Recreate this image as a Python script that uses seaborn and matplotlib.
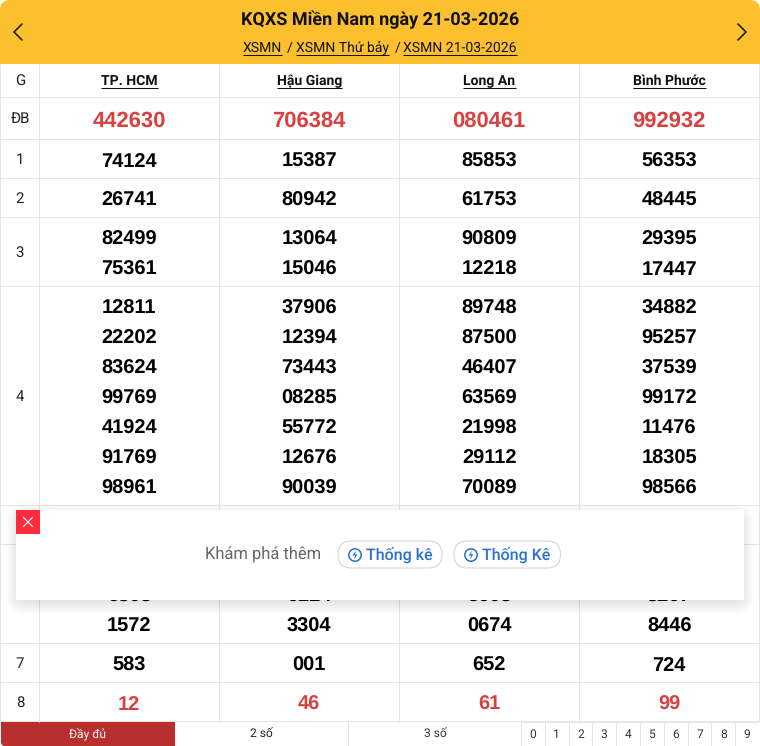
import numpy as np
import matplotlib
matplotlib.use("Agg")
import matplotlib.pyplot as plt
import seaborn as sns
from matplotlib.colors import ListedColormap
from matplotlib.patches import Circle, FancyBboxPatch, Polygon, Rectangle

# table contents, one list per province, one sublist per prize row
provinces = ["TP. HCM", "Hậu Giang", "Long An", "Bình Phước"]
prize_labels = ["ĐB", "1", "2", "3", "4", "5", "6", "7", "8"]
tp_hcm = [["442630"], ["74124"], ["26741"], ["82499", "75361"],
          ["12811", "22202", "83624", "99769", "41924", "91769", "98961"],
          [""], ["", "6303", "1572"], ["583"], ["12"]]
hau_giang = [["706384"], ["15387"], ["80942"], ["13064", "15046"],
             ["37906", "12394", "73443", "08285", "55772", "12676", "90039"],
             [""], ["", "9224", "3304"], ["001"], ["46"]]
long_an = [["080461"], ["85853"], ["61753"], ["90809", "12218"],
           ["89748", "87500", "46407", "63569", "21998", "29112", "70089"],
           [""], ["", "5603", "0674"], ["652"], ["61"]]
binh_phuoc = [["992932"], ["56353"], ["48445"], ["29395", "17447"],
              ["34882", "95257", "37539", "99172", "11476", "18305", "98566"],
              [""], ["", "3267", "8446"], ["724"], ["99"]]
tab_labels = ["Đầy đủ", "2 số", "3 số"]
digit_tabs = ["0", "1", "2", "3", "4", "5", "6", "7", "8", "9"]

GRID = "#e5e5e5"
YELLOW = "#fcc02e"
RED_TEXT = "#d94141"
BLUE = "#2a72cf"
W, H = 760, 746

sns.set_theme(style="white")
plt.rcParams["font.family"] = ["Roboto", "DejaVu Sans"]
plt.rcParams["text.hinting"] = "none"


def px(size):
    return size * 0.72


def inset(fig, x, y, w, h):
    ax = fig.add_axes([x / W, 1 - (y + h) / H, w / W, h / H])
    return ax


def draw_prize_row(fig, top, values, fontsize, color):
    """One heatmap per prize row, each text line is a heatmap row of 30px"""
    labels = np.array(values).T
    ax = inset(fig, 39.2, top, 720, 30 * labels.shape[0] if fontsize == 20 else 42)
    sns.heatmap(np.zeros(labels.shape), annot=labels, fmt="", cbar=False,
                cmap=ListedColormap(["white"]), xticklabels=False, yticklabels=False,
                annot_kws={"fontsize": px(fontsize), "fontweight": "bold", "color": color,
                           "family": "Liberation Sans", "va": "center_baseline"}, ax=ax)
    ax.axis("off")


def underlined(ax, x, y, s, line_y, ha="left", **kw):
    t = ax.text(x, y, s, ha=ha, va="center", **kw)
    bb = t.get_window_extent(ax.figure.canvas.get_renderer())
    ax.plot([bb.x0, bb.x1], [line_y, line_y], color="#111111", lw=0.75, solid_capstyle="butt")


fig = plt.figure(figsize=(W / 100, H / 100), dpi=100, facecolor="white")

# prize rows
all_rows = list(zip(tp_hcm, hau_giang, long_an, binh_phuoc))
y = 98
edges = [97]
centers = [81]
for i, row in enumerate(all_rows):
    n = len(row[0])
    h = 42 if i == 0 else 9 + 30 * n
    color = RED_TEXT if prize_labels[i] in ("ĐB", "8") else "#000000"
    if i == 0:
        draw_prize_row(fig, y - 0.5, row, 22, color)
    else:
        draw_prize_row(fig, y + 4.7, row, 20, color)
    centers.append(y + h / 2)
    y += h
    edges.append(y - 1)

# digit tabs at the bottom
ax_tabs = inset(fig, 521, 721.5, 238, 27)
sns.heatmap(np.zeros((1, 10)), annot=np.array([digit_tabs]), fmt="", cbar=False,
            cmap=ListedColormap(["white"]), xticklabels=False, yticklabels=False,
            linewidths=0.72, linecolor=GRID,
            annot_kws={"fontsize": px(12), "color": "#333333"}, ax=ax_tabs)
ax_tabs.axis("off")

# page layer on top of the heatmaps, axes units are pixels
ax = fig.add_axes([0, 0, 1, 1], zorder=5)
ax.set_xlim(0, W)
ax.set_ylim(H, 0)
ax.axis("off")
ax.patch.set_alpha(0)

col_x = [0, 39, 219, 399, 579, 759]
ax.hlines(edges, 0, W, color=GRID, lw=0.72)
ax.vlines(col_x, 64, 722, color=GRID, lw=0.72)

# yellow header
ax.add_patch(FancyBboxPatch((10, 10), 740, 30, boxstyle="round,pad=10,rounding_size=10",
                            fc=YELLOW, ec="none"))
ax.add_patch(Rectangle((0, 12), W, 52, fc=YELLOW, ec="none"))
ax.text(380, 20, "KQXS Miền Nam ngày 21-03-2026", ha="center", va="center",
        fontsize=px(18), fontweight="bold", color="#111111")
link_font = dict(fontsize=px(14), color="#111111")
underlined(ax, 243, 48, "XSMN", 54.5, **link_font)
ax.text(287, 48, "/", **link_font, va="center")
underlined(ax, 296, 48, "XSMN Thứ bảy", 54.5, **link_font)
ax.text(394.5, 48, "/", **link_font, va="center")
underlined(ax, 403, 48, "XSMN 21-03-2026", 54.5, **link_font)
ax.plot([22, 14, 22], [24, 32, 40], color="#111111", lw=1.1)
ax.plot([738, 746, 738], [24, 32, 40], color="#111111", lw=1.1)

# first column and province names
ax.text(20, centers[0], "G", ha="center", va="center", fontsize=px(15), color="#222222")
for label, cy in zip(prize_labels, centers[1:]):
    ax.text(20, cy, label, ha="center", va="center", fontsize=px(15), color="#222222")
for name, cx in zip(provinces, [129.5, 309.5, 489.5, 669.5]):
    underlined(ax, cx, 81.5, name, 87.5, ha="center", fontsize=px(14), fontweight="bold",
               color="#111111")

# lower tabs
ax.add_patch(FancyBboxPatch((5, 726), 165, 16, boxstyle="round,pad=4,rounding_size=4",
                            fc="#b92f2b", ec="none"))
ax.add_patch(Rectangle((1, 722), 173.5, 10, fc="#b92f2b", ec="none"))
ax.add_patch(Rectangle((90, 722), 84.5, 24, fc="#b92f2b", ec="none"))
ax.vlines([348, 521], 722, H, color=GRID, lw=0.72)
for label, cx, c in zip(tab_labels, [87.5, 261, 435], ["white", "#222222", "#333333"]):
    ax.text(cx, 734.5, label, ha="center", va="center", fontsize=px(12), color=c)

# popup with soft shadow
for p in range(1, 21):
    ax.add_patch(FancyBboxPatch((26, 524), 708, 70, boxstyle=f"round,pad={p},rounding_size={p}",
                                fc="black", ec="none", alpha=0.008, zorder=6))
ax.add_patch(Rectangle((16, 510), 728, 90, fc="white", ec="none", zorder=7))
ax.add_patch(Rectangle((16, 510), 24, 24, fc="#fb2d3f", ec="none", zorder=8))
ax.plot([23.5, 32.5], [517.5, 526.5], color="white", lw=0.8, zorder=9)
ax.plot([23.5, 32.5], [526.5, 517.5], color="white", lw=0.8, zorder=9)
ax.text(263, 555, "Khám phá thêm", ha="center", va="center", fontsize=px(16.5),
        color="#63676c", zorder=9)
for x0, w, icon_x, text_x, label in [(338, 104, 355, 366, "Thống kê"),
                                     (454, 106.5, 471, 482, "Thống Kê")]:
    ax.add_patch(FancyBboxPatch((x0 + 13.5, 554.5), w - 27, 0,
                                boxstyle="round,pad=13.5,rounding_size=13.5",
                                fc="white", ec="#d6d6d6", lw=0.8, zorder=8))
    ax.add_patch(Circle((icon_x, 555), 6.2, fc="none", ec=BLUE, lw=1.1, zorder=9))
    ax.add_patch(Polygon([(icon_x + 1, 550.5), (icon_x - 2.5, 555.5), (icon_x, 555.5),
                          (icon_x - 1, 559.5), (icon_x + 2.5, 554.3), (icon_x, 554.3)],
                         fc=BLUE, ec="none", zorder=9))
    ax.text(text_x, 554.5, label, ha="left", va="center", fontsize=px(16), fontweight="medium",
            color=BLUE, zorder=9)

fig.savefig("out.png", dpi=100)
